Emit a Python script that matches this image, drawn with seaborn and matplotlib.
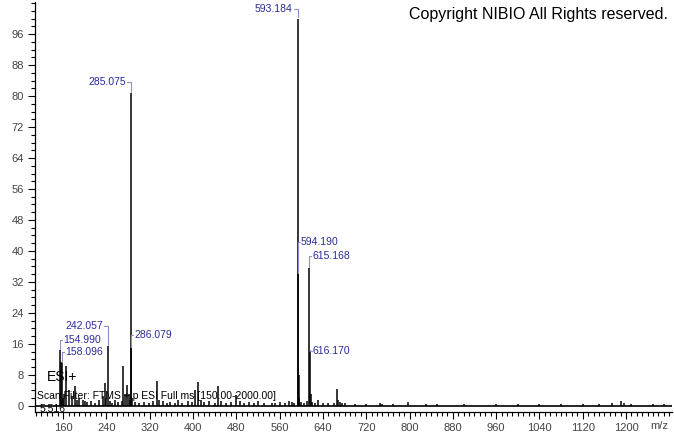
import numpy as np
import pandas as pd
import matplotlib
matplotlib.use("Agg")
import matplotlib.pyplot as plt
from matplotlib.ticker import MultipleLocator
import seaborn as sns

#labelled peaks (m/z, relative abundance)
label_mz = [154.990, 158.096, 242.057, 285.075, 286.079, 593.184, 594.190, 615.168, 616.170]
label_int = [14.3, 11.0, 15.5, 80.8, 15.0, 100.0, 34.0, 35.6, 14.0]
label_side = ["right", "right", "left", "left", "right", "left", "right", "right", "right"]
label_ty = [17.0, 13.9, 20.6, 83.6, 18.3, 102.6, 42.4, 38.6, 14.2]

#small unlabelled peaks
noise_mz = [156.2, 160.1, 162.5, 166.1, 170.2, 176.0, 182.0, 186.0, 190.0, 196.0, 200.0, 205.0,
            212.0, 218.0, 226.0, 233.0, 237.0, 240.0, 246.0, 250.0, 256.0, 262.0, 268.0, 271.0,
            275.0, 278.0, 281.0, 283.0, 288.0, 292.0, 300.0, 310.0, 318.0, 326.0, 333.0, 338.0,
            345.0, 352.0, 358.0, 366.0, 372.0, 380.0, 390.0, 398.0, 404.0, 409.0, 415.0, 420.0,
            430.0, 440.0, 447.0, 452.0, 460.0, 471.0, 480.0, 486.0, 495.0, 503.0, 512.0, 520.0,
            532.0, 545.0, 552.0, 560.0, 570.0, 578.0, 583.0, 587.0, 595.2, 596.2, 600.0, 605.0,
            610.0, 617.2, 620.0, 626.0, 631.0, 640.0, 650.0, 660.0, 666.0, 668.0, 671.0, 675.0,
            680.0, 700.0, 720.0, 745.0, 750.0, 770.0, 798.0, 830.0, 850.0, 900.0, 960.0, 1000.0,
            1040.0, 1080.0, 1120.0, 1150.0, 1175.0, 1190.0, 1196.0, 1210.0, 1250.0, 1270.0]
noise_int = [11.2, 2.0, 3.0, 10.4, 4.0, 2.5, 5.0, 1.5, 2.0, 1.5, 1.2, 1.0,
             1.3, 0.8, 1.5, 2.5, 5.8, 2.0, 1.2, 0.8, 1.5, 1.0, 1.2, 10.3,
             3.0, 5.5, 3.0, 1.5, 2.0, 1.0, 0.8, 1.0, 0.8, 1.2, 6.3, 1.5,
             1.2, 0.8, 1.0, 0.8, 1.5, 0.8, 1.2, 1.0, 4.2, 6.1, 1.5, 1.0,
             1.3, 0.8, 5.2, 1.2, 0.8, 1.0, 2.8, 1.2, 0.8, 1.0, 0.8, 1.2,
             0.6, 0.8, 0.6, 1.0, 0.8, 1.2, 1.0, 0.8, 8.0, 2.0, 1.0, 0.8,
             1.2, 3.0, 1.0, 0.8, 1.5, 0.8, 0.7, 0.8, 4.4, 1.5, 1.0, 0.8,
             0.6, 0.5, 0.5, 0.6, 0.5, 0.4, 0.9, 0.4, 0.4, 0.5, 0.5, 0.4,
             0.5, 0.4, 0.5, 0.4, 0.6, 1.2, 0.6, 0.4, 0.5, 0.5]

x_ticks = list(range(160, 1201, 80))
y_ticks = list(range(0, 97, 8))

peaks = pd.DataFrame({"mz": label_mz + noise_mz, "intensity": label_int + noise_int})

sns.set_style("ticks")
plt.rcParams["font.family"] = ["Liberation Sans", "DejaVu Sans"]

fig = plt.figure(figsize=(6.74, 4.34), dpi=100)
ax = fig.add_axes([35 / 674, 22 / 434, 637 / 674, 410 / 434])

ax.axhline(0, color="black", lw=1.2, zorder=2)
ax.vlines(peaks["mz"], 0, peaks["intensity"], color="black", lw=1.1, zorder=3)

ax.set_xlim(108, 1285)
ax.set_ylim(-1.6, 104.3)
ax.set_xticks(x_ticks)
ax.set_yticks(y_ticks)
ax.xaxis.set_minor_locator(MultipleLocator(10))
ax.yaxis.set_minor_locator(MultipleLocator(2))
ax.tick_params(axis="both", which="major", length=5, width=0.8, color="black",
               labelsize=8, labelcolor="#444444", pad=3)
ax.tick_params(axis="both", which="minor", length=3, width=0.8, color="black")
sns.despine(ax=ax)
for s in ["left", "bottom"]:
    ax.spines[s].set_linewidth(0.9)
    ax.spines[s].set_color("black")

#peak labels with brackets
lab_col = "#2a2a9a"
br_col = "#9090c8"
for mz, h, side, ty in zip(label_mz, label_int, label_side, label_ty):
    if side == "left":
        ax.plot([mz - 7, mz, mz], [ty, ty, h + 0.3], color=br_col, lw=0.8, zorder=4)
        ax.text(mz - 9, ty, f"{mz:.3f}", ha="right", va="center", fontsize=7.5, color=lab_col)
    else:
        ax.plot([mz + 3, mz, mz], [ty, ty, h + 0.3], color=br_col, lw=0.8, zorder=4)
        ax.text(mz + 5, ty, f"{mz:.3f}", ha="left", va="center", fontsize=7.5, color=lab_col)

fig.text(659 / 674, 1 - 426 / 434, "m/z", ha="center", va="center", fontsize=8, color="#444444")

fig.text(668 / 674, 1 - 14 / 434, "Copyright NIBIO All Rights reserved.", ha="right", va="center",
         fontsize=11.5, color="black")
fig.text(47 / 674, 1 - 377 / 434, "ESI+", ha="left", va="center", fontsize=10, color="black")
fig.text(37 / 674, 1 - 396 / 434, "Scan Filter: FTMS + p ESI Full ms [150.00-2000.00]", ha="left",
         va="center", fontsize=7.5, color="black")
fig.text(40 / 674, 1 - 409 / 434, "5.516", ha="left", va="center", fontsize=7.5, color="black")

fig.savefig("out.png", dpi=100)
